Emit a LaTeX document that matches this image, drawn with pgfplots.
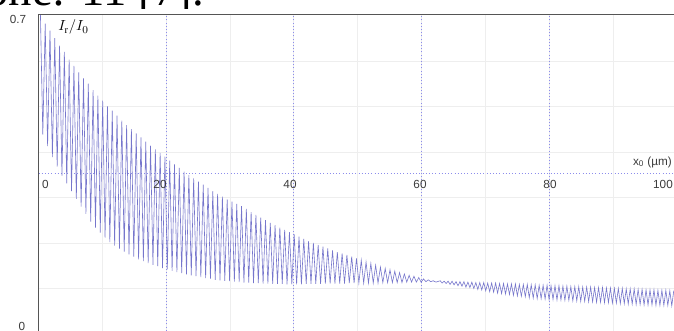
\documentclass[border=0pt]{standalone}
\usepackage{fontspec}
\setmainfont{Liberation Serif}
\setsansfont{Liberation Sans}
\usepackage{pgfplots}
\pgfplotsset{compat=1.18}
\definecolor{curve}{RGB}{118,118,204}
\definecolor{dotblue}{RGB}{140,140,236}
\definecolor{gridc}{RGB}{238,238,238}
\definecolor{axc}{RGB}{85,85,85}
\definecolor{lab}{RGB}{60,60,60}
\tikzset{dotln/.style={dotblue, line width=0.8pt, dash pattern=on 0.8pt off 1.6pt}}
\begin{document}
\begin{tikzpicture}
\node[anchor=base west, inner sep=0, font=\fontsize{35}{40}\selectfont] at (-11pt,243.75pt) {one: 11 [7].};
\fill[white] (-10pt,-10pt) rectangle (520pt,241.5pt);
\begin{axis}[at={(28.875pt,-2.25pt)}, anchor=south west,
  width=476.625pt, height=238.875pt, scale only axis,
  xmin=0, xmax=99.53, ymin=0, ymax=0.7,
  axis line style={draw=none},
  xtick={10,20,30,40,50,60,70,80,90}, ytick={0.1,0.2,0.3,0.4,0.5,0.6},
  xticklabels={}, yticklabels={}, major tick length=0pt,
  grid=major, major grid style={gridc, line width=0.7pt}]
\draw[dotln] (axis cs:20,0) -- (axis cs:20,0.7);
\draw[dotln] (axis cs:40,0) -- (axis cs:40,0.7);
\draw[dotln] (axis cs:60,0) -- (axis cs:60,0.7);
\draw[dotln] (axis cs:80,0) -- (axis cs:80,0.7);
\draw[dotln] (axis cs:0,0.353) -- (axis cs:99.53,0.353);
\addplot[curve, line width=0.45pt, no marks] table {
0.30 0.704
0.675 0.438
1.05 0.682
1.425 0.413
1.80 0.667
2.175 0.389
2.55 0.650
2.925 0.368
3.30 0.634
3.675 0.348
4.05 0.620
4.425 0.331
4.80 0.603
5.175 0.314
5.55 0.589
5.925 0.297
6.30 0.575
6.675 0.280
7.05 0.562
7.425 0.264
7.80 0.550
8.175 0.247
8.55 0.536
8.925 0.234
9.30 0.524
9.675 0.223
10.05 0.513
10.425 0.212
10.80 0.500
11.175 0.202
11.55 0.491
11.925 0.194
12.30 0.480
12.675 0.187
13.05 0.469
13.425 0.181
13.80 0.459
14.175 0.175
14.55 0.450
14.925 0.170
15.30 0.441
15.675 0.164
16.05 0.432
16.425 0.160
16.80 0.423
17.175 0.156
17.55 0.414
17.925 0.152
18.30 0.406
18.675 0.149
19.05 0.398
19.425 0.145
19.80 0.390
20.175 0.142
20.55 0.381
20.925 0.139
21.30 0.373
21.675 0.136
22.05 0.365
22.425 0.134
22.80 0.357
23.175 0.131
23.55 0.349
23.925 0.129
24.30 0.342
24.675 0.127
25.05 0.335
25.425 0.125
25.80 0.328
26.175 0.123
26.55 0.321
26.925 0.121
27.30 0.314
27.675 0.119
28.05 0.308
28.425 0.118
28.80 0.302
29.175 0.117
29.55 0.296
29.925 0.116
30.30 0.291
30.675 0.115
31.05 0.286
31.425 0.114
31.80 0.281
32.175 0.113
32.55 0.275
32.925 0.113
33.30 0.268
33.675 0.112
34.05 0.262
34.425 0.112
34.80 0.256
35.175 0.111
35.55 0.250
35.925 0.111
36.30 0.244
36.675 0.110
37.05 0.239
37.425 0.110
37.80 0.234
38.175 0.110
38.55 0.229
38.925 0.109
39.30 0.224
39.675 0.109
40.05 0.219
40.425 0.109
40.80 0.214
41.175 0.109
41.55 0.209
41.925 0.110
42.30 0.204
42.675 0.110
43.05 0.200
43.425 0.110
43.80 0.196
44.175 0.110
44.55 0.192
44.925 0.111
45.30 0.188
45.675 0.111
46.05 0.184
46.425 0.111
46.80 0.180
47.175 0.111
47.55 0.177
47.925 0.111
48.30 0.174
48.675 0.112
49.05 0.170
49.425 0.112
49.80 0.166
50.175 0.112
50.55 0.162
50.925 0.112
51.30 0.158
51.675 0.112
52.05 0.155
52.425 0.112
52.80 0.151
53.175 0.112
53.55 0.147
53.925 0.113
54.30 0.144
54.675 0.113
55.05 0.141
55.425 0.113
55.80 0.138
56.175 0.113
56.55 0.135
56.925 0.113
57.30 0.132
57.675 0.114
58.05 0.129
58.425 0.114
58.80 0.127
59.175 0.114
59.55 0.124
59.925 0.114
60.30 0.121
60.675 0.115
61.05 0.119
61.425 0.115
61.80 0.117
62.25 0.114
62.91 0.117
63.22 0.112
63.53 0.116
63.84 0.111
64.15 0.116
64.46 0.109
64.77 0.116
65.08 0.108
65.39 0.115
65.70 0.106
66.01 0.115
66.32 0.105
66.63 0.115
66.94 0.103
67.25 0.114
67.56 0.102
67.87 0.114
68.18 0.100
68.49 0.113
68.80 0.098
69.11 0.113
69.42 0.097
69.73 0.113
70.04 0.095
70.35 0.112
70.66 0.093
70.97 0.112
71.28 0.092
71.59 0.112
71.90 0.090
72.21 0.111
72.52 0.089
72.83 0.111
73.14 0.088
73.45 0.110
73.76 0.087
74.07 0.110
74.38 0.085
74.69 0.110
75.00 0.084
75.31 0.109
75.62 0.083
75.93 0.109
76.24 0.082
76.55 0.109
76.86 0.080
77.17 0.108
77.48 0.079
77.79 0.108
78.10 0.078
78.41 0.107
78.72 0.078
79.03 0.107
79.34 0.077
79.65 0.107
79.96 0.076
80.27 0.106
80.58 0.076
80.89 0.106
81.20 0.075
81.51 0.106
81.82 0.075
82.13 0.105
82.44 0.074
82.75 0.105
83.06 0.074
83.37 0.104
83.68 0.073
83.99 0.104
84.30 0.073
84.61 0.104
84.92 0.072
85.23 0.103
85.54 0.072
85.85 0.103
86.16 0.071
86.47 0.103
86.78 0.071
87.09 0.102
87.40 0.070
87.71 0.102
88.02 0.070
88.33 0.102
88.64 0.069
88.95 0.101
89.26 0.069
89.57 0.101
89.88 0.068
90.19 0.100
90.50 0.068
90.81 0.100
91.12 0.067
91.43 0.100
91.74 0.067
92.05 0.099
92.36 0.066
92.67 0.099
92.98 0.066
93.29 0.099
93.60 0.065
93.91 0.098
94.22 0.065
94.53 0.098
94.84 0.064
95.15 0.097
95.46 0.064
95.77 0.097
96.08 0.064
96.39 0.097
96.70 0.063
97.01 0.096
97.32 0.063
97.63 0.096
97.94 0.063
98.25 0.096
98.56 0.063
98.87 0.095
99.18 0.062
99.49 0.095
};
\end{axis}
\draw[axc, line width=1.2pt] (28.875pt,-5pt) -- (28.875pt,237.4pt) -- (510pt,237.4pt);
\begin{scope}[every node/.style={inner sep=0pt, text=lab, font=\sffamily\fontsize{8.8}{10}\selectfont}]
\node[anchor=center] at (13.5pt,233.6pt) {0.7};
\node[anchor=north] at (16.5pt,6.75pt) {0};
\node[anchor=north] at (34.1pt,112.9pt) {0};
\node[anchor=north] at (120pt,112.9pt) {20};
\node[anchor=north] at (217.5pt,112.9pt) {40};
\node[anchor=north] at (315pt,112.9pt) {60};
\node[anchor=north] at (412.5pt,112.9pt) {80};
\node[anchor=north] at (497.25pt,112.9pt) {100};
\node[anchor=south east] at (504pt,122.25pt) {x\textsubscript{0} (µm)};
\end{scope}
\node[anchor=base west, inner sep=0pt, font=\fontsize{11}{13}\selectfont] at (43.5pt,225pt) {$I_{\mathrm{r}}/I_0$};
\pgfresetboundingbox
\path[use as bounding box] (0,0) rectangle (505.5pt,248.25pt);
\end{tikzpicture}
\end{document}
